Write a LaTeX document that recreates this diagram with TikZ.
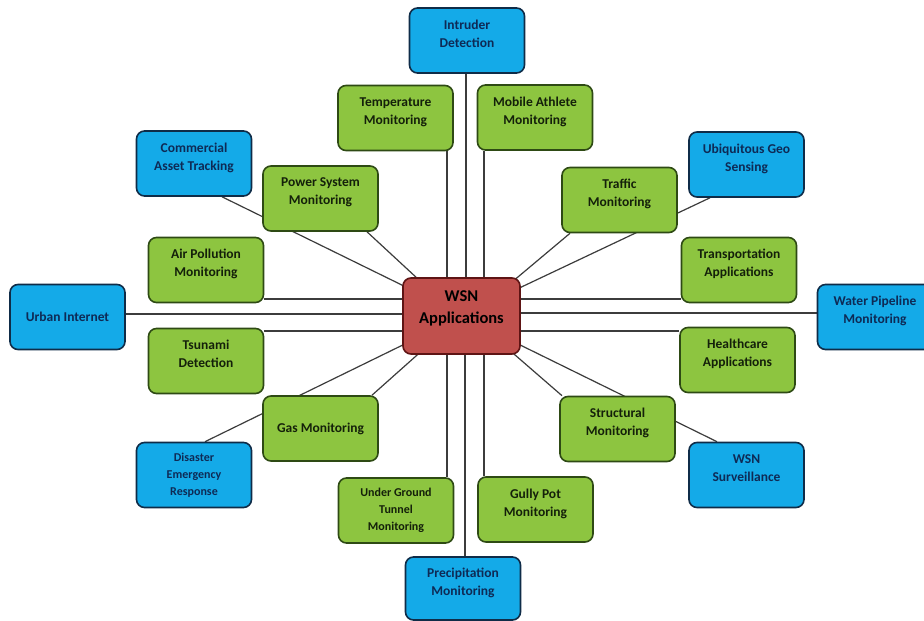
\documentclass[tikz,border=0pt]{standalone}
\usepackage{fontspec}
\setmainfont{Carlito}
\usetikzlibrary{backgrounds}

\definecolor{leaf}{HTML}{8DC540}
\definecolor{leafline}{HTML}{2E4A14}
\definecolor{leaftext}{HTML}{14200A}
\definecolor{sky}{HTML}{14AAE8}
\definecolor{skyline}{HTML}{0F2C48}
\definecolor{skytext}{HTML}{0E2A55}
\definecolor{hub}{HTML}{C0504D}
\definecolor{hubline}{HTML}{5E1414}
\definecolor{wirecol}{HTML}{3C3C3C}

% an empty closing row that lifts two-line labels a little
\newcommand\padrow{\\[-4pt]\mbox{}}

\begin{document}
\begin{tikzpicture}[x=1pt,y=1pt,
  box/.style={rounded corners=8pt, line width=1.6pt, align=center,
    font=\bfseries\fontsize{13.5}{18}\selectfont, inner sep=2pt,
    minimum width=115pt, minimum height=65pt},
  small/.style={font=\bfseries\fontsize{12}{17}\selectfont},
  app/.style={box, fill=leaf, draw=leafline, text=leaftext},
  field/.style={box, fill=sky, draw=skyline, text=skytext},
  hubbox/.style={box, fill=hub, draw=hubline, text=black,
    minimum width=117pt, minimum height=76pt,
    font=\bfseries\fontsize{16.5}{22}\selectfont},
  wire/.style={draw=wirecol, line width=1.2pt}]

\useasboundingbox (0,0) rectangle (924,621);

% hub
\node[hubbox] (wsn) at (461.5,305) {WSN\\Applications\padrow};

% application boxes
\node[app] (temp)  at (395.5,503)   {Temperature\\Monitoring\padrow};
\node[app] (mob)   at (535,503.5)   {Mobile Athlete\\Monitoring\padrow};
\node[app] (pow)   at (320.5,422.5) {Power System\\Monitoring\padrow};
\node[app] (air)   at (206,351)     {Air Pollution\\Monitoring\padrow};
\node[app] (tsu)   at (206,260)     {Tsunami\\Detection\padrow};
\node[app] (gas)   at (320.5,192.5) {Gas Monitoring};
\node[app,small] (ug) at (396,110.5) {Under Ground\\Tunnel\\Monitoring};
\node[app] (gully) at (535.5,111.5) {Gully Pot\\Monitoring\padrow};
\node[app] (traf)  at (619.5,421)   {Traffic\\Monitoring\padrow};
\node[app] (trans) at (739,351)     {Transportation\\Applications\padrow};
\node[app] (hc)    at (737.5,261)   {Healthcare\\Applications\padrow};
\node[app] (str)   at (617.5,192)   {Structural\\Monitoring\padrow};

% field boxes
\node[field] (intr)  at (467,580.5) {Intruder\\Detection\padrow};
\node[field] (comm)  at (194,457.5) {Commercial\\Asset Tracking\padrow};
\node[field] (urb)   at (67.5,304)  {Urban Internet};
\node[field,small] (dis) at (194,146) {Disaster\\Emergency\\Response};
\node[field,minimum height=63pt] (prec) at (463,32.5) {Precipitation\\Monitoring\padrow};
\node[field] (ubi)   at (746.5,456.5) {Ubiquitous Geo\\Sensing\padrow};
\node[field] (water) at (875,304)   {Water Pipeline\\Monitoring\padrow};
\node[field] (surv)  at (746.5,146) {WSN\\Surveillance\padrow};

% connectors, drawn behind the boxes on a white ground
\begin{scope}[on background layer]
  \fill[white] (0,0) rectangle (924,621);
  % vertical
  \draw[wire] ([xshift=51.5pt]temp.south) -- ([xshift=-14.5pt]wsn.north);
  \draw[wire] ([xshift=-1pt]intr.south)   -- ([xshift=4.5pt]wsn.north);
  \draw[wire] ([xshift=-51pt]mob.south)   -- ([xshift=22.5pt]wsn.north);
  \draw[wire] ([xshift=51pt]ug.north)     -- ([xshift=-14.5pt]wsn.south);
  \draw[wire] ([xshift=2pt]prec.north)    -- ([xshift=3.5pt]wsn.south);
  \draw[wire] ([xshift=-51.5pt]gully.north) -- ([xshift=22.5pt]wsn.south);
  % horizontal
  \draw[wire] ([yshift=-29pt]air.east)  -- ([yshift=17pt]wsn.west);
  \draw[wire] ([yshift=3pt]urb.east)    -- ([yshift=2pt]wsn.west);
  \draw[wire] ([yshift=30pt]tsu.east)   -- ([yshift=-15pt]wsn.west);
  \draw[wire] ([yshift=-29pt]trans.west) -- ([yshift=17pt]wsn.east);
  \draw[wire] ([yshift=4pt]water.west)  -- ([yshift=3pt]wsn.east);
  \draw[wire] ([yshift=29pt]hc.west)    -- ([yshift=-15pt]wsn.east);
  % diagonal
  \draw[wire] ([xshift=28pt]comm.south)   -- ([xshift=-49.5pt,yshift=26pt]wsn.center);
  \draw[wire] ([xshift=46.5pt]pow.south)  -- ([xshift=-36.5pt,yshift=30.5pt]wsn.center);
  \draw[wire] ([xshift=-49.5pt]traf.south) -- ([xshift=50.5pt,yshift=34pt]wsn.center);
  \draw[wire] ([xshift=-36.5pt]ubi.south) -- ([xshift=51.5pt,yshift=25pt]wsn.center);
  \draw[wire] ([xshift=51.5pt]gas.north)  -- ([xshift=-36.5pt,yshift=-32pt]wsn.center);
  \draw[wire] ([xshift=11pt]dis.north)    -- ([xshift=-48.5pt,yshift=-24pt]wsn.center);
  \draw[wire] ([xshift=-55.5pt]str.north) -- ([xshift=45.5pt,yshift=-32pt]wsn.center);
  \draw[wire] ([xshift=-29.5pt]surv.north) -- ([xshift=48.5pt,yshift=-24pt]wsn.center);
\end{scope}
\end{tikzpicture}
\end{document}
